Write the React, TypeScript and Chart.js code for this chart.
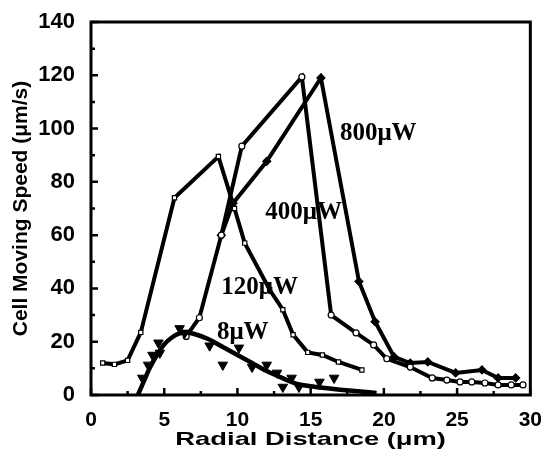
import React, { useEffect, useRef } from "react";
import { Chart, registerables } from "chart.js";

Chart.register(...registerables);

// 120 µW series (open squares)
const x120 = [0.8, 1.6, 2.5, 3.4, 5.7, 8.7, 9.8, 10.5, 12.2, 13.1, 13.8, 14.8, 15.8, 16.9, 18.5];
const y120 = [12, 11.5, 13, 23.5, 74, 89.5, 70, 57, 39.5, 32, 22.6, 16, 15, 12.4, 9.4];

// 400 µW series (open circles)
const x400 = [6.5, 7.4, 8.9, 10.3, 14.4, 16.4, 18.1, 19.3, 20.2, 21.8, 23.3, 24.3, 25.2, 26.0, 26.9, 27.8, 28.7, 29.5];
const y400 = [22, 29, 60, 93.4, 119.4, 30, 23.3, 18.8, 13.6, 10.5, 6.4, 5.6, 4.9, 4.9, 4.5, 3.8, 3.8, 3.8];

// 800 µW series (filled diamonds)
const x800 = [8.9, 9.7, 12.0, 15.7, 18.3, 19.4, 20.7, 21.8, 23.0, 24.9, 26.7, 27.8, 29.0];
const y800 = [60, 72, 87.7, 119, 42.6, 27.5, 14.3, 12, 12.4, 8.3, 9.4, 6.4, 6.4];

// 8 µW measured points (filled down triangles)
const x8 = [3.5, 3.9, 4.2, 4.6, 4.7, 6.05, 6.4, 8.1, 9.0, 10.1, 11.0, 12.0, 12.7, 13.1, 13.7, 14.2, 15.6, 16.6];
const y8 = [6.4, 11.3, 15, 19.6, 15.8, 25, 23.3, 18.5, 11.3, 17.7, 10.5, 11.3, 8.3, 3, 6.4, 3, 4.9, 6.4];

// 8 µW fitted curve
const xFit = [3.2, 3.6, 4.0, 4.5, 5.0, 5.5, 6.0, 6.5, 7.0, 8.0, 9.0, 10.0, 11.0, 12.0, 13.0, 14.0, 15.0, 16.0, 17.0, 18.0, 19.5];
const yFit = [0, 5, 10, 15, 19, 21.5, 23, 23.5, 23, 21, 18, 15, 12, 9, 6.5, 4.3, 3.3, 2.6, 2, 1.5, 0.8];

// annotations
const labelTexts = ["800\u03bcW", "400\u03bcW", "120\u03bcW", "8\u03bcW"];
const labelX = [17.0, 11.9, 8.9, 8.6];
const labelY = [98, 68.5, 40.3, 23.4];

// axis titles
const xTitle = "Radial Distance (\u03bcm)";
const yTitle = "Cell Moving Speed (\u03bcm/s)";

// ticks
const xMajorTicks = [0, 5, 10, 15, 20, 25, 30];
const xMinorTicks = [2.5, 7.5, 12.5, 17.5, 22.5, 27.5];
const yMajorTicks = [0, 20, 40, 60, 80, 100, 120, 140];
const yMinorTicks = [10, 30, 50, 70, 90, 110, 130];

const zip = (xs: number[], ys: number[]) => xs.map((x, i) => ({ x, y: ys[i] }));

const framePlugin = {
  id: "frame",
  afterDatasetsDraw(chart: any) {
    const { ctx, chartArea, scales } = chart;
    const { left, top, right, bottom } = chartArea;
    const xs = scales.x;
    const ys = scales.y;
    ctx.save();
    ctx.strokeStyle = "#000";
    ctx.lineWidth = 3;
    ctx.strokeRect(left, top, right - left, bottom - top);
    ctx.lineWidth = 2.5;
    ctx.beginPath();
    xMajorTicks.forEach((v) => {
      const p = xs.getPixelForValue(v);
      ctx.moveTo(p, bottom);
      ctx.lineTo(p, bottom - 7);
    });
    xMinorTicks.forEach((v) => {
      const p = xs.getPixelForValue(v);
      ctx.moveTo(p, bottom);
      ctx.lineTo(p, bottom - 4);
    });
    yMajorTicks.forEach((v) => {
      const p = ys.getPixelForValue(v);
      ctx.moveTo(left, p);
      ctx.lineTo(left + 7, p);
    });
    yMinorTicks.forEach((v) => {
      const p = ys.getPixelForValue(v);
      ctx.moveTo(left, p);
      ctx.lineTo(left + 4, p);
    });
    ctx.stroke();

    ctx.fillStyle = "#000";
    ctx.font = "bold 25px 'Liberation Serif'";
    ctx.textAlign = "left";
    ctx.textBaseline = "middle";
    labelTexts.forEach((t, i) => {
      ctx.fillText(t, xs.getPixelForValue(labelX[i]), ys.getPixelForValue(labelY[i]));
    });

    // x axis title, horizontally stretched like the reference
    ctx.save();
    ctx.font = "bold 19px 'Liberation Sans'";
    ctx.textAlign = "center";
    ctx.textBaseline = "middle";
    const cx = (left + right) / 2;
    ctx.translate(cx, bottom + 45);
    ctx.scale(1.44, 1);
    ctx.fillText(xTitle, 0, 0);
    ctx.restore();
    ctx.restore();
  },
};

export default function App() {
  const ref = useRef<HTMLCanvasElement | null>(null);
  useEffect(() => {
    if (!ref.current) return;
    const lineStyle = {
      borderColor: "#000",
      borderWidth: 4,
      showLine: true,
      tension: 0,
      pointBorderColor: "#000",
      pointBorderWidth: 1.2,
    };
    const chart = new Chart(ref.current, {
      type: "scatter",
      data: {
        datasets: [
          {
            label: "8µW fit",
            data: zip(xFit, yFit),
            borderColor: "#000",
            borderWidth: 4.5,
            showLine: true,
            cubicInterpolationMode: "monotone",
            pointRadius: 0,
          } as any,
          {
            label: "8µW",
            data: zip(x8, y8),
            showLine: false,
            pointStyle: "triangle",
            rotation: 180,
            pointRadius: 5.5,
            pointBackgroundColor: "#000",
            pointBorderColor: "#000",
            pointBorderWidth: 1,
          } as any,
          {
            ...lineStyle,
            label: "120µW",
            data: zip(x120, y120),
            pointStyle: "rect",
            pointRadius: 3,
            pointBackgroundColor: "#fff",
          } as any,
          {
            ...lineStyle,
            label: "400µW",
            data: zip(x400, y400),
            pointStyle: "circle",
            pointRadius: 3,
            pointBackgroundColor: "#fff",
          } as any,
          {
            ...lineStyle,
            label: "800µW",
            data: zip(x800, y800),
            pointStyle: "rectRot",
            pointRadius: 4,
            pointBackgroundColor: "#000",
          } as any,
        ],
      },
      options: {
        animation: false,
        responsive: false,
        layout: { padding: { left: 0, top: 22, right: 15, bottom: 0 } },
        plugins: { legend: { display: false }, tooltip: { enabled: false } },
        scales: {
          x: {
            type: "linear",
            min: 0,
            max: 30,
            grid: { display: false },
            border: { display: false },
            afterFit: (s: any) => {
              s.height = 62;
            },
            ticks: {
              stepSize: 5,
              padding: 5,
              color: "#000",
              font: { family: "'Liberation Sans'", size: 21, weight: "bold" },
            },
          },
          y: {
            type: "linear",
            min: 0,
            max: 140,
            grid: { display: false },
            border: { display: false },
            afterFit: (s: any) => {
              s.width = 91;
            },
            ticks: {
              stepSize: 20,
              padding: 8,
              color: "#000",
              font: { family: "'Liberation Sans'", size: 22, weight: "bold" },
            },
            title: {
              display: true,
              text: yTitle,
              color: "#000",
              padding: { top: 9, bottom: 0 },
              font: { family: "'Liberation Sans'", size: 21, weight: "bold" },
            },
          },
        },
      },
      plugins: [framePlugin],
    });
    return () => chart.destroy();
  }, []);
  return (
    <div style={{ position: "absolute", left: 0, top: 0, width: 547, height: 457, background: "#fff" }}>
      <canvas ref={ref} width={547} height={457} />
    </div>
  );
}
